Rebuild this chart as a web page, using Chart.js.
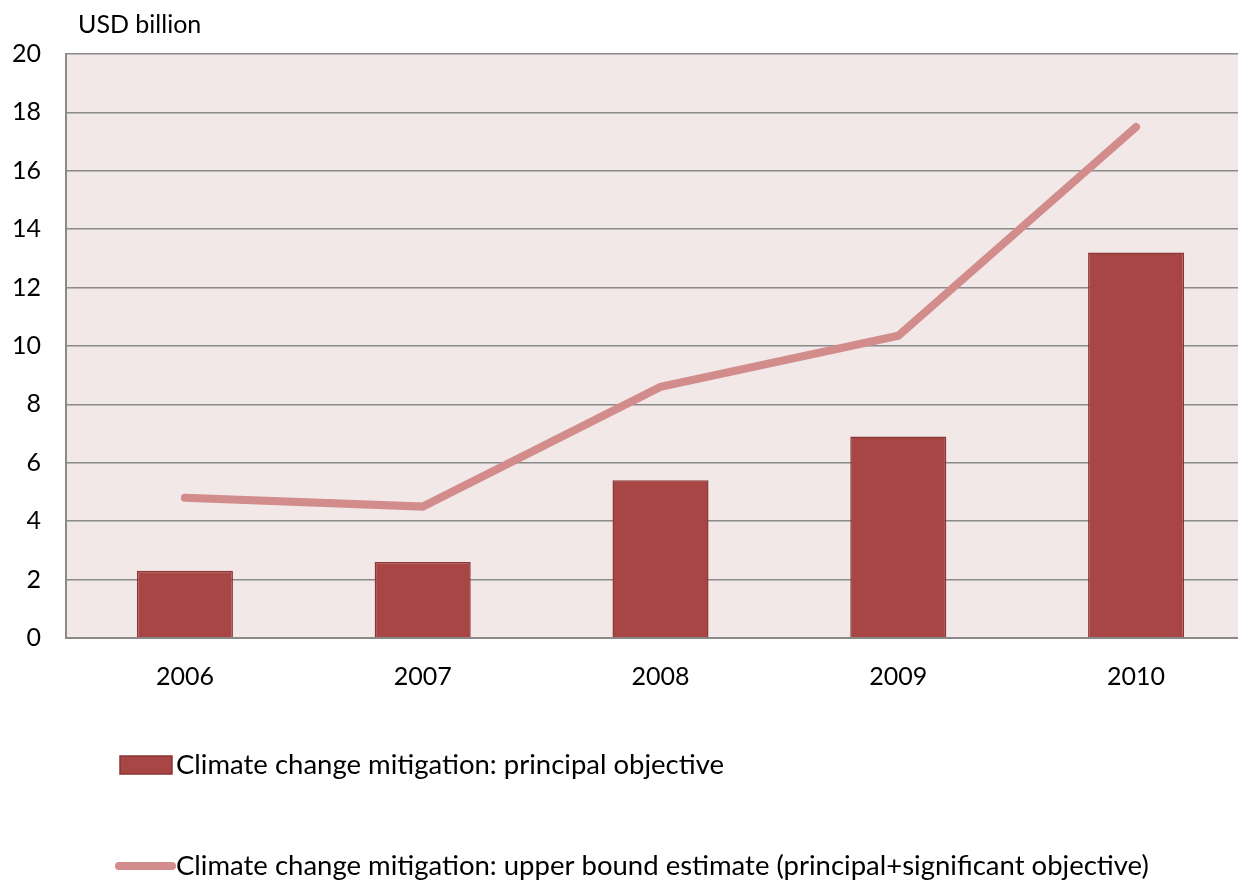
<!DOCTYPE html>
<html>
<head>
<meta charset="utf-8">
<script src="https://cdn.jsdelivr.net/npm/chart.js@4"></script>
<style>
  html, body { margin: 0; padding: 0; background: #ffffff; overflow: hidden; }
  #wrap { width: 1255px; height: 884px; position: relative; }
</style>
</head>
<body>
<div id="wrap"><canvas id="chart"></canvas></div>
<script>
const years = ["2006", "2007", "2008", "2009", "2010"];
const principal = [2.3, 2.6, 5.4, 6.9, 13.2];
const upperBound = [4.8, 4.5, 8.6, 10.35, 17.5];
const yTicks = [0, 2, 4, 6, 8, 10, 12, 14, 16, 18, 20];
const unitLabel = "USD billion";
const seriesNames = [
  "Climate change mitigation: principal objective",
  "Climate change mitigation: upper bound estimate (principal+significant objective)"
];

const FONT = "Lato, 'Open Sans', sans-serif";

// fond rosé de la zone de tracé + titre d'unité
const plotBg = {
  id: "plotBg",
  beforeDraw(chart) {
    const { ctx, chartArea: a } = chart;
    ctx.save();
    ctx.fillStyle = "#F2E8E8";
    ctx.fillRect(a.left, a.top, a.right - a.left, a.bottom - a.top);
    ctx.restore();
  },
  afterDraw(chart) {
    const { ctx, chartArea: a } = chart;
    ctx.save();
    ctx.fillStyle = "#000";
    ctx.font = "25px " + FONT;
    ctx.textBaseline = "middle";
    ctx.fillText(unitLabel, a.left + 12, 25);
    ctx.restore();
  }
};

// légende empilée à gauche, comme dans l'original
const stackedLegend = {
  id: "stackedLegend",
  afterDraw(chart) {
    const { ctx } = chart;
    const ds = chart.data.datasets;
    const bar = ds.find(d => !d.type);
    const line = ds.find(d => d.type === "line");
    ctx.save();
    ctx.font = "27.5px " + FONT;
    ctx.textBaseline = "middle";
    // barre
    let y = 765;
    ctx.fillStyle = bar.backgroundColor;
    ctx.strokeStyle = bar.borderColor;
    ctx.lineWidth = 1.5;
    ctx.fillRect(120, y - 9, 52, 18);
    ctx.strokeRect(120, y - 9, 52, 18);
    ctx.fillStyle = "#000";
    ctx.fillText(bar.label, 176, y);
    // ligne
    y = 866;
    ctx.strokeStyle = line.borderColor;
    ctx.lineWidth = 8;
    ctx.lineCap = "round";
    ctx.beginPath();
    ctx.moveTo(119, y);
    ctx.lineTo(172, y);
    ctx.stroke();
    ctx.fillText(line.label, 176, y);
    ctx.restore();
  }
};

new Chart(document.getElementById("chart"), {
  type: "bar",
  data: {
    labels: years,
    datasets: [
      {
        label: seriesNames[0],
        data: principal,
        backgroundColor: "#A84545",
        borderColor: "#8C3535",
        borderWidth: 1.5,
        borderSkipped: "bottom",
        categoryPercentage: 1,
        barPercentage: 0.404,
        order: 1
      },
      {
        label: seriesNames[1],
        type: "line",
        data: upperBound,
        borderColor: "#D28C8C",
        backgroundColor: "#D28C8C",
        borderWidth: 8,
        borderCapStyle: "round",
        borderJoinStyle: "miter",
        pointRadius: 0,
        tension: 0,
        order: 0
      }
    ]
  },
  options: {
    responsive: true,
    maintainAspectRatio: false,
    animation: false,
    layout: { padding: { top: 54, left: 0, right: 0, bottom: 186 } },
    plugins: {
      legend: { display: false },
      tooltip: { enabled: false }
    },
    scales: {
      x: {
        offset: true,
        grid: { display: false, drawTicks: false },
        border: { display: true, color: "#8A8A8A", width: 2 },
        ticks: { color: "#000", font: { family: FONT, size: 25 }, padding: 24 },
        afterFit: (s) => { s.height = 60; }
      },
      y: {
        min: 0,
        max: 20,
        afterBuildTicks: (s) => { s.ticks = yTicks.map(v => ({ value: v })); },
        grid: { color: "#8A8A8A", lineWidth: 1.5, drawTicks: false },
        border: { display: true, color: "#8A8A8A", width: 2 },
        ticks: { color: "#000", font: { family: FONT, size: 25 }, padding: 25 },
        afterFit: (s) => { s.width = 66; }
      }
    }
  },
  plugins: [plotBg, stackedLegend]
});
</script>
</body>
</html>
